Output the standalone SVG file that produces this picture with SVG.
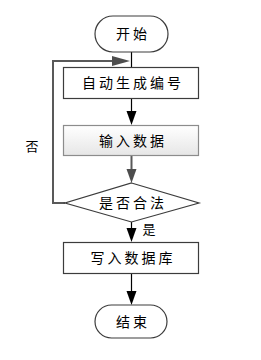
<svg xmlns="http://www.w3.org/2000/svg" width="261" height="360" viewBox="0 0 261 360">
<style>
.shape{fill:#fff;stroke:#3c3c3c;stroke-width:1.2}
.t{font-family:"Noto Sans CJK SC","Noto Sans CJK JP",sans-serif;font-size:14px;fill:#000;text-anchor:middle;letter-spacing:3px}
.lbl{font-family:"Noto Sans CJK SC",sans-serif;font-size:13px;fill:#000;text-anchor:middle}
.blk{stroke:#000;stroke-width:1.2;fill:none}
.gry{stroke:#595959;stroke-width:2;fill:none}
</style>
<defs>
<linearGradient id="g" x1="0" y1="0" x2="0" y2="1">
<stop offset="0" stop-color="#ffffff"/>
<stop offset="1" stop-color="#e6e6e6"/>
</linearGradient>
<marker id="ab" markerWidth="10" markerHeight="14" refX="10" refY="5" orient="auto" markerUnits="userSpaceOnUse" viewBox="0 0 14 10">
<path d="M0,0 L14,5 L0,10 Z" fill="#000"/>
</marker>
<marker id="ag" markerWidth="10" markerHeight="14" refX="10" refY="5" orient="auto" markerUnits="userSpaceOnUse" viewBox="0 0 14 10">
<path d="M0,0 L14,5 L0,10 Z" fill="#4d4d4d"/>
</marker>
</defs>
<g id="connectors">
<path class="blk" d="M131.5,52 V67"/>
<path class="gry" d="M65,203 H53 V61 H118"/>
<path d="M112,56 L130,61 L112,66 Z" fill="#4d4d4d"/>
<path class="blk" d="M131.5,99 V111"/>
<path d="M126.5,111 L131.5,125 L136.5,111 Z" fill="#000"/>
<path class="gry" d="M131.5,156 V170"/>
<path d="M126.5,169 L131.5,183 L136.5,169 Z" fill="#4d4d4d"/>
<path class="blk" d="M131.5,222 V229"/>
<path d="M126.5,228 L131.5,242 L136.5,228 Z" fill="#000"/>
<path class="blk" d="M131.5,274 V292"/>
<path d="M126.5,291 L131.5,305 L136.5,291 Z" fill="#000"/>
<text class="lbl" x="32" y="151">否</text>
<text class="lbl" x="149" y="234">是</text>
</g>
<g id="start">
<rect class="shape" x="95" y="16" width="73" height="36" rx="18" ry="18"/>
<text class="t" x="133" y="39">开始</text>
</g>
<g id="gen">
<rect class="shape" x="63.5" y="67.5" width="135" height="31"/>
<text class="t" x="133" y="88">自动生成编号</text>
</g>
<g id="input">
<rect x="63.5" y="125.5" width="135" height="30" fill="url(#g)" stroke="#8c8c8c" stroke-width="1.2"/>
<text class="t" x="133" y="145.5">输入数据</text>
</g>
<g id="check">
<polygon class="shape" points="131.5,183 199,203 131.5,222 65,203"/>
<text class="t" x="133" y="208">是否合法</text>
</g>
<g id="write">
<rect class="shape" x="63.5" y="242.5" width="135" height="31"/>
<text class="t" x="133" y="263">写入数据库</text>
</g>
<g id="end">
<rect class="shape" x="95" y="305" width="72" height="33" rx="16.5" ry="16.5"/>
<text class="t" x="133" y="326.5">结束</text>
</g>
</svg>
